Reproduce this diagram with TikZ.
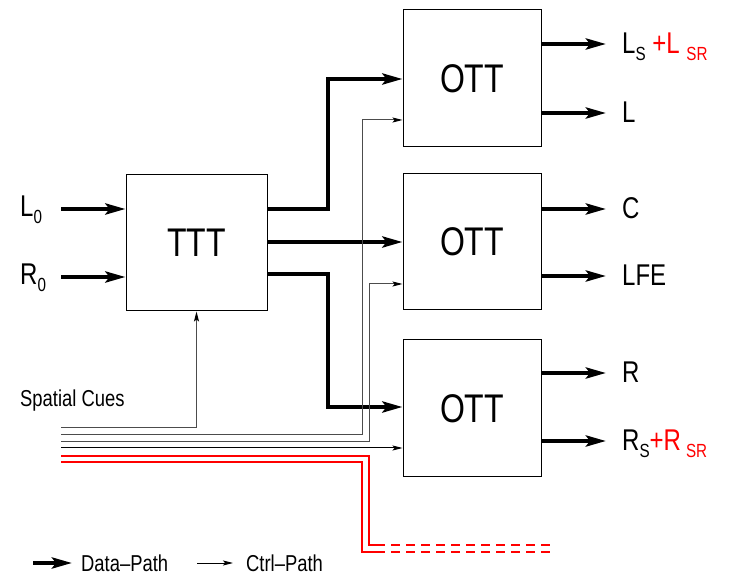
\documentclass[tikz,border=0pt]{standalone}
\usepackage{fontspec}
\newfontfamily\diagfont{Liberation Sans}[FakeStretch=0.8, Ligatures=TeX]
\usetikzlibrary{arrows.meta}
\newcommand\sub[1]{\raisebox{-7pt}{\fontsize{19}{19}\selectfont #1}}

\begin{document}
\begin{tikzpicture}[x=1pt, y=-1pt,
  box/.style={draw, line width=1pt, inner sep=0pt, font=\diagfont\fontsize{40}{40}\selectfont},
  lbl/.style={inner sep=0pt, anchor=base west, font=\diagfont\fontsize{30}{30}\selectfont},
  cue/.style={inner sep=0pt, font=\diagfont\fontsize{23}{23}\selectfont},
  data/.style={line width=4pt, -{Stealth[length=20pt,width=11pt,inset=4pt]}},
  ctrl/.style={line width=1pt, -{Stealth[length=10pt,width=5pt,inset=2pt,color=black]}},
  redline/.style={red, line width=1.1pt}]
\useasboundingbox (0,0) rectangle (729,577);

\node[box, minimum width=141pt, minimum height=136pt] (ttt) at (196.5,243) {TTT};
\node[box, minimum width=138pt, minimum height=137pt] (ott1) at (472,78.5) {OTT};
\node[box, minimum width=138pt, minimum height=136pt] (ott2) at (472,242) {OTT};
\node[box, minimum width=138pt, minimum height=137pt] (ott3) at (472,408.5) {OTT};

% inputs
\node[lbl] (l0) at (20,217) {L\sub{0}};
\node[lbl] (r0) at (20,285) {R\sub{0}};
\coordinate (inl) at (61,209);
\coordinate (inr) at (61,277);
\draw[data] (inl) -- (inl -| ttt.west);
\draw[data] (inr) -- (inr -| ttt.west);

% TTT -> OTT
\draw[data] (ttt.east |- 0,209) -| (328,79) -- (ott1.west |- 0,79);
\draw[data] (ttt.east |- 0,242) -- (ott2.west |- 0,242);
\draw[data] (ttt.east |- 0,274) -| (328,407) -- (ott3.west |- 0,407);

% outputs
\foreach \b/\y/\n in {ott1/44/o1, ott1/113/o2, ott2/209/o3, ott2/276/o4, ott3/373/o5, ott3/441/o6}
  \draw[data] (\b.east |- 0,\y) -- (606,\y) coordinate (\n);
\node[lbl] (ls) at (622,54) {L\sub{S} \textcolor{red}{+L \sub{SR}}};
\node[lbl] (l) at (622,123) {L};
\node[lbl] (c) at (622,219) {C};
\node[lbl] (lfe) at (622,286) {LFE};
\node[lbl] (r) at (622,383) {R};
\node[lbl] (rs) at (622,451) {R\sub{S}\textcolor{red}{+R\,\sub{SR}}};

% spatial cues
\node[cue, anchor=base west] (cues) at (20,407) {Spatial Cues};
\foreach \i/\y in {1/428, 2/435, 3/442, 4/448, 5/456, 6/462}
  \coordinate (cue\i) at (61,\y);
\draw[ctrl, black!70] (cue1) -| (ttt.south);
\draw[ctrl, black!70] (cue2) -| (362,120) -- (ott1.west |- 0,120);
\draw[ctrl, black!70] (cue3) -| (369,284) -- (ott2.west |- 0,284);
\draw[ctrl] (cue4) -- (cue4 -| ott3.west);
\draw[redline] (cue5) -| (369,545) -- (376,545) coordinate (d5);
\draw[redline] (cue6) -| (362,552) -- (376,552) coordinate (d6);
\draw[redline, dash pattern=on 9pt off 6pt] (d5) -- (553,545);
\draw[redline, dash pattern=on 9pt off 6pt] (d6) -- (553,552);

% legend
\node[cue, anchor=west] (legdata) at (81,563) {Data–Path};
\node[cue, anchor=west] (legctrl) at (246,563) {Ctrl–Path};
\coordinate (lgd) at (33,563);
\coordinate (lgc) at (197,563);
\draw[data] (lgd) -- ([xshift=-9pt]legdata.west);
\draw[ctrl] (lgc) -- ([xshift=-13pt]legctrl.west);
\end{tikzpicture}
\end{document}
